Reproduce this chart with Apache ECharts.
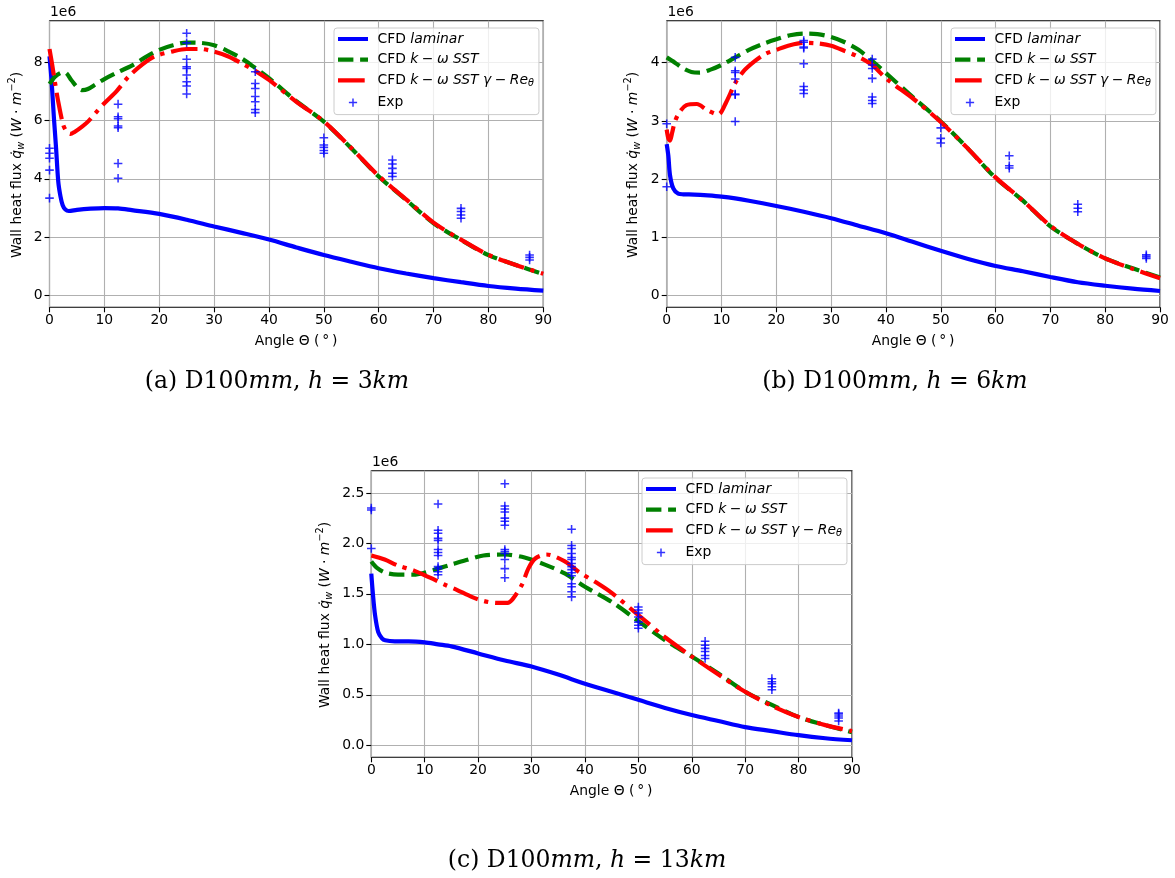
<!DOCTYPE html>
<html>
<head>
<meta charset="utf-8">
<script src="https://cdn.jsdelivr.net/npm/echarts@6/dist/echarts.min.js"></script>
<style>
html,body{margin:0;padding:0;background:#fff;}
#chart{width:1175px;height:878px;}
</style>
</head>
<body>
<div id="chart"></div>
<script>
// ---------------- DATA (values in units of 1e6 W/m^2) ----------------
const xTicks = [0, 10, 20, 30, 40, 50, 60, 70, 80, 90];
const aYTicks = [0, 2, 4, 6, 8];
const bYTicks = [0, 1, 2, 3, 4];
const cYTicks = [0, 0.5, 1.0, 1.5, 2.0, 2.5];

const seriesNames = ['CFD laminar', 'CFD k-ω SST', 'CFD k-ω SST γ-Reθ', 'Exp'];

// Panel (a) h = 3 km
const aLaminar = [[0,8.2],[0.4,7.3],[0.8,6.1],[1.2,5.05],[1.6,3.9],[2.0,3.4],[2.4,3.1],[2.9,2.95],[3.5,2.9],[5,2.94],[7.5,2.98],[10,3.0],[12.5,2.99],[15,2.93],[20,2.8],[25,2.6],[30,2.37],[35,2.15],[40,1.92],[45,1.65],[50,1.39],[55,1.16],[60,0.94],[65,0.76],[70,0.6],[75,0.46],[80,0.33],[85,0.24],[90,0.17]];
const aSST = [[0,7.25],[1,7.5],[2,7.63],[2.8,7.65],[4,7.38],[5,7.15],[6,7.04],[7,7.08],[8.5,7.25],[10,7.42],[12.5,7.66],[15,7.88],[17.5,8.17],[20,8.42],[22.5,8.58],[25,8.67],[27.5,8.66],[30,8.58],[32.5,8.38],[35,8.13],[37.5,7.8],[40,7.45],[45,6.66],[50,5.96],[55,5.05],[60,4.08],[65,3.28],[70,2.48],[75,1.91],[80,1.39],[85,1.05],[90,0.74]];
const aTrans = [[0,8.45],[0.5,7.9],[1,7.3],[1.6,6.64],[2.5,5.85],[3.2,5.6],[3.8,5.54],[4.5,5.6],[6,5.8],[7.1,5.98],[8.5,6.28],[10,6.59],[12.2,7.0],[14.4,7.5],[17,7.93],[19.2,8.2],[22.5,8.37],[25,8.45],[27.5,8.45],[30,8.36],[32.5,8.2],[35,7.96],[37.5,7.7],[40,7.39],[45,6.64],[50,5.97],[55,5.06],[60,4.1],[65,3.3],[70,2.5],[75,1.92],[80,1.4],[85,1.05],[90,0.75]];
const aExpAngles = [0, 12.5, 25, 37.5, 50, 62.5, 75, 87.5];
const aExpValues = [
  [5.05, 4.88, 4.71, 4.3, 3.34],
  [6.56, 6.13, 6.06, 5.81, 5.75, 4.53, 4.02],
  [8.99, 8.66, 8.1, 7.84, 7.78, 7.56, 7.33, 7.18, 6.91],
  [7.67, 7.27, 7.1, 6.82, 6.64, 6.38, 6.27],
  [5.41, 5.16, 5.08, 4.97, 4.88],
  [4.65, 4.51, 4.36, 4.19, 4.08],
  [2.99, 2.88, 2.76, 2.65],
  [1.39, 1.31, 1.22]
];

// Panel (b) h = 6 km
const bLaminar = [[0,2.6],[0.3,2.4],[0.6,2.07],[1.2,1.84],[2.1,1.75],[3,1.74],[5,1.735],[7.5,1.72],[10,1.70],[12.5,1.67],[15,1.63],[20,1.54],[25,1.44],[30,1.33],[35,1.2],[40,1.07],[45,0.92],[50,0.77],[55,0.63],[60,0.51],[65,0.42],[70,0.32],[75,0.23],[80,0.17],[85,0.12],[90,0.08]];
const bSST = [[0,4.09],[1.5,4.0],[3,3.9],[4.5,3.84],[6,3.83],[8,3.88],[10,3.96],[12.5,4.09],[15,4.22],[17.5,4.32],[20,4.4],[22.5,4.47],[25,4.5],[27.5,4.49],[30,4.44],[32.5,4.35],[35,4.22],[37.5,4.03],[40,3.82],[45,3.4],[50,2.99],[55,2.52],[60,2.02],[65,1.63],[70,1.19],[75,0.89],[80,0.64],[85,0.47],[90,0.31]];
const bTrans = [[0,2.85],[0.3,2.7],[0.6,2.66],[1,2.8],[1.5,2.99],[2.4,3.16],[3.6,3.27],[5.5,3.29],[7.3,3.19],[9.4,3.11],[10.9,3.33],[12.5,3.65],[14,3.85],[16,4.02],[18,4.15],[20,4.22],[22.5,4.3],[25,4.34],[27.5,4.33],[30,4.29],[32.5,4.2],[35,4.1],[37.5,3.96],[40,3.73],[45,3.38],[50,2.98],[55,2.52],[60,2.03],[65,1.63],[70,1.2],[75,0.89],[80,0.64],[85,0.46],[90,0.3]];
const bExpAngles = [0, 12.5, 25, 37.5, 50, 62.5, 75, 87.5];
const bExpValues = [
  [2.95, 1.87],
  [4.09, 3.86, 3.83, 3.72, 3.46, 3.45, 2.99],
  [4.38, 4.35, 4.27, 4.25, 3.98, 3.59, 3.53, 3.47],
  [4.06, 3.96, 3.9, 3.73, 3.41, 3.35, 3.3],
  [2.88, 2.7, 2.62],
  [2.4, 2.23, 2.19],
  [1.57, 1.5, 1.44],
  [0.7, 0.67, 0.64]
];

// Panel (c) h = 13 km
const cLaminar = [[0,1.7],[0.3,1.5],[0.7,1.29],[1.3,1.12],[2,1.06],[2.6,1.04],[4.4,1.03],[7,1.03],[10,1.02],[12.5,1.0],[15,0.98],[20,0.91],[25,0.84],[30,0.78],[35,0.70],[40,0.61],[45,0.53],[50,0.45],[55,0.37],[60,0.30],[65,0.24],[70,0.18],[75,0.14],[80,0.10],[85,0.07],[90,0.05]];
const cSST = [[0,1.82],[1,1.76],[2.6,1.71],[5,1.69],[8,1.69],[10,1.71],[12.5,1.75],[15,1.79],[17.5,1.83],[21,1.88],[25,1.89],[28.7,1.86],[32.5,1.79],[36.3,1.7],[40,1.57],[45,1.42],[50,1.23],[55,1.04],[60,0.88],[65,0.71],[70,0.53],[75,0.4],[80,0.28],[85,0.2],[90,0.13]];
const cTrans = [[0,1.88],[2.5,1.84],[5,1.78],[8,1.73],[11,1.66],[13.8,1.59],[16,1.54],[18.8,1.47],[21,1.43],[23.5,1.41],[25.5,1.41],[26.5,1.45],[28.2,1.59],[29.4,1.75],[30.7,1.85],[32.8,1.89],[36.3,1.82],[38.8,1.72],[42.5,1.6],[45,1.51],[50,1.29],[55,1.07],[60,0.88],[65,0.7],[70,0.53],[75,0.39],[80,0.28],[85,0.2],[90,0.14]];
const cExpAngles = [0, 12.5, 25, 37.5, 50, 62.5, 75, 87.5];
const cExpValues = [
  [2.35, 2.33, 1.95],
  [2.39, 2.13, 2.10, 2.05, 2.03, 1.94, 1.91, 1.88, 1.77, 1.75, 1.72, 1.69],
  [2.59, 2.37, 2.34, 2.31, 2.25, 2.22, 2.18, 1.94, 1.92, 1.90, 1.84, 1.75, 1.66],
  [2.14, 1.98, 1.95, 1.90, 1.86, 1.84, 1.80, 1.77, 1.74, 1.71, 1.68, 1.60, 1.57, 1.52, 1.47],
  [1.37, 1.34, 1.31, 1.27, 1.22, 1.19, 1.16],
  [1.03, 0.99, 0.96, 0.93, 0.89, 0.86],
  [0.66, 0.63, 0.61, 0.58, 0.55],
  [0.32, 0.31, 0.29, 0.27, 0.24]
];

// ---------------- BUILD ----------------
function expPairs(angles, values) {
  const out = [];
  angles.forEach((a, i) => values[i].forEach(v => out.push([a, v])));
  return out;
}

const FONT = 'DejaVu Sans';
const FS = 13.9;
const LW = 4.2;
const PLUS = 'path://M-1.8,-10H1.8V-1.8H10V1.8H1.8V10H-1.8V1.8H-10V-1.8H-1.8Z';
const PLUS_LEGEND = 'path://M-17,-17h0.01v0.01h-0.01Z M17,17h0.01v0.01h-0.01Z M-1.8,-10H1.8V-1.8H10V1.8H1.8V10H-1.8V1.8H-10V-1.8H-1.8Z';
const BOX = 'M0,0h0.01v0.01h-0.01Z M29.99,13.99h0.01v0.01h-0.01Z ';
const ICON_LAM = 'path://' + BOX + 'M0,4.9H30V9.1H0Z';
const ICON_SST = 'path://' + BOX + 'M0,4.9H15.4V9.1H0Z M22.1,4.9H30V9.1H22.1Z';
const ICON_TR = 'path://' + BOX + 'M0,4.9H26.7V9.1H0Z';

const panels = [
  { lam: aLaminar, sst: aSST, tr: aTrans, exp: expPairs(aExpAngles, aExpValues), yTicks: aYTicks,
    grid: {left: 49.5, top: 20.7, width: 493.8, height: 286.6}, yMin: -0.4, yMax: 9.42, fmt: v => String(v),
    legend: {left: 334, top: 28} },
  { lam: bLaminar, sst: bSST, tr: bTrans, exp: expPairs(bExpAngles, bExpValues), yTicks: bYTicks,
    grid: {left: 666.7, top: 20.7, width: 493.3, height: 286.6}, yMin: -0.2, yMax: 4.72, fmt: v => String(v),
    legend: {left: 951, top: 28} },
  { lam: cLaminar, sst: cSST, tr: cTrans, exp: expPairs(cExpAngles, cExpValues), yTicks: cYTicks,
    grid: {left: 371.3, top: 470.7, width: 480.7, height: 286.6}, yMin: -0.119, yMax: 2.72, fmt: v => v.toFixed(1),
    legend: {left: 642, top: 478} }
];

const grids = [], xAxes = [], yAxes = [], series = [], legends = [];
const axisLabelStyle = {fontFamily: FONT, fontSize: FS, color: '#000'};
const SP = '\u2005';

panels.forEach((p, i) => {
  grids.push(Object.assign({show: true, borderColor: '#000', borderWidth: 1.1, backgroundColor: 'transparent'}, p.grid));
  xAxes.push({
    type: 'value', gridIndex: i, min: 0, max: 90, interval: 10,
    axisLine: {show: false, onZero: false},
    axisTick: {show: true, inside: false, length: 5, lineStyle: {color: '#000', width: 1.1}},
    axisLabel: Object.assign({margin: 6}, axisLabelStyle),
    splitLine: {show: true, lineStyle: {color: '#b0b0b0', width: 1.1}}
  });
  yAxes.push({
    type: 'value', gridIndex: i, min: p.yMin, max: p.yMax, splitNumber: 5,
    axisLine: {show: false, onZero: false},
    axisTick: {show: true, inside: false, length: 5, customValues: p.yTicks, lineStyle: {color: '#000', width: 1.1}},
    axisLabel: Object.assign({margin: 7, showMinLabel: false, showMaxLabel: false, formatter: p.fmt}, axisLabelStyle),
    splitLine: {show: true, lineStyle: {color: '#b0b0b0', width: 1.1}}
  });
  const common = {type: 'line', xAxisIndex: i, yAxisIndex: i, symbol: 'none', smooth: 0.3, silent: true, animation: false};
  series.push(Object.assign({}, common, {name: seriesNames[0], data: p.lam, z: 2,
    lineStyle: {color: '#0000ff', width: LW, type: 'solid'}, itemStyle: {color: '#0000ff'}}));
  series.push(Object.assign({}, common, {name: seriesNames[1], data: p.sst, z: 3,
    lineStyle: {color: '#008000', width: LW, type: [15.4, 6.7], cap: 'butt'}, itemStyle: {color: '#008000'}}));
  series.push(Object.assign({}, common, {name: seriesNames[2], data: p.tr, z: 4,
    lineStyle: {color: '#ff0000', width: LW, type: [26.7, 6.7, 4.2, 6.7], cap: 'butt'}, itemStyle: {color: '#ff0000'}}));
  series.push({type: 'scatter', name: seriesNames[3], xAxisIndex: i, yAxisIndex: i, data: p.exp, z: 5,
    symbol: PLUS, symbolSize: 8.6, itemStyle: {color: '#0000ff'}, silent: true, animation: false});
  legends.push({
    orient: 'vertical', left: p.legend.left, top: p.legend.top,
    data: [
      {name: seriesNames[0], icon: ICON_LAM},
      {name: seriesNames[1], icon: ICON_SST},
      {name: seriesNames[2], icon: ICON_TR},
      {name: seriesNames[3], icon: PLUS_LEGEND}
    ],
    itemWidth: 30, itemHeight: 14, itemGap: 6.7,
    padding: [4, 5, 5, 4],
    backgroundColor: 'rgba(255,255,255,0.8)', borderColor: '#cccccc', borderWidth: 1, borderRadius: 3,
    selectedMode: false,
    textStyle: {fontFamily: FONT, fontSize: FS, color: '#000', padding: [0, 0, 0, 4.5],
      rich: {
        i: {fontFamily: FONT, fontSize: FS, fontStyle: 'italic', color: '#000'},
        s: {fontFamily: FONT, fontSize: 9.7, fontStyle: 'italic', color: '#000', padding: [7, 0, 0, 0]}
      }},
    formatter: function (name) {
      if (name === seriesNames[0]) return 'CFD {i|laminar}';
      if (name === seriesNames[1]) return 'CFD {i|k}' + SP + '−' + SP + '{i|ω SST}';
      if (name === seriesNames[2]) return 'CFD {i|k}' + SP + '−' + SP + '{i|ω SST γ}' + SP + '−' + SP + '{i|Re}{s|θ}';
      return 'Exp';
    }
  });
});

// ---------------- TEXTS ----------------
const yLabelRich = {
  n: {fontFamily: FONT, fontSize: FS, fill: '#000'},
  i: {fontFamily: FONT, fontSize: FS, fontStyle: 'italic', fill: '#000'},
  s: {fontFamily: FONT, fontSize: 9.7, fontStyle: 'italic', fill: '#000', padding: [8, 0, 0, 0]},
  p: {fontFamily: FONT, fontSize: 9.7, fill: '#000', padding: [0, 0, 9, 0]}
};
const yLabelText = '{n|Wall heat flux }{i|q\u0307}{s|w}{n| (}{i|W}{n| · }{i|m}{p|−2}{n|)}';
const capRich = {
  n: {fontFamily: 'DejaVu Serif', fontSize: 23.5, fill: '#000'},
  i: {fontFamily: 'DejaVu Serif', fontSize: 23.5, fontStyle: 'italic', fill: '#000'}
};

function txt(x, y, text, opts) {
  return {type: 'text', x: x, y: y, silent: true,
    style: Object.assign({text: text, fontFamily: FONT, fontSize: FS, fill: '#000', align: 'center', verticalAlign: 'middle'}, opts || {})};
}

const graphics = [
  txt(50, 12, '1e6', {align: 'left'}),
  txt(667.5, 12, '1e6', {align: 'left'}),
  txt(372, 462, '1e6', {align: 'left'}),
  Object.assign(txt(17, 165, yLabelText, {rich: yLabelRich}), {rotation: Math.PI / 2}),
  Object.assign(txt(633, 165, yLabelText, {rich: yLabelRich}), {rotation: Math.PI / 2}),
  Object.assign(txt(325, 615, yLabelText, {rich: yLabelRich}), {rotation: Math.PI / 2}),
  txt(296, 341.5, 'Angle Θ (\u2009°\u2009)'),
  txt(913, 341.5, 'Angle Θ (\u2009°\u2009)'),
  txt(611, 791.5, 'Angle Θ (\u2009°\u2009)'),
  txt(277, 382, '{n|(a) D100}{i|mm}{n|, }{i|h}{n| = 3}{i|km}', {rich: capRich}),
  txt(895, 382, '{n|(b) D100}{i|mm}{n|, }{i|h}{n| = 6}{i|km}', {rich: capRich}),
  txt(587, 861, '{n|(c) D100}{i|mm}{n|, }{i|h}{n| = 13}{i|km}', {rich: capRich})
];

const chart = echarts.init(document.getElementById('chart'), null, {renderer: 'canvas'});
chart.setOption({
  animation: false,
  backgroundColor: '#ffffff',
  grid: grids,
  xAxis: xAxes,
  yAxis: yAxes,
  legend: legends,
  series: series,
  graphic: graphics
});
</script>
</body>
</html>
